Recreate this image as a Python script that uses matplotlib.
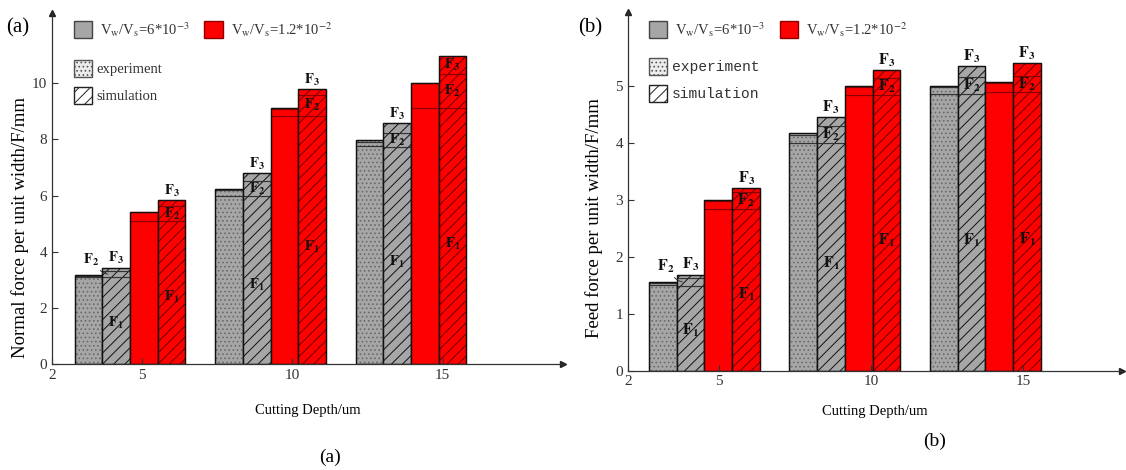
import numpy as np
import matplotlib.pyplot as plt
from matplotlib.patches import Patch

plt.rcParams['font.family'] = ['Liberation Serif', 'DejaVu Serif']
plt.rcParams['mathtext.fontset'] = 'stix'
plt.rcParams['hatch.linewidth'] = 0.7

depth = np.array([5, 10, 15])
xticks = [2, 5, 10, 15]

# segment heights [F1, F2, F3] for each cutting depth
normal_gray_exp = [[3.10, 6.00, 7.76], [0.04, 0.18, 0.16], [0.03, 0.06, 0.05]]
normal_gray_sim = [[3.10, 6.00, 7.72], [0.20, 0.50, 0.50], [0.13, 0.30, 0.35]]
normal_red_exp = [[5.08, 8.84, 9.13], [0.32, 0.25, 0.86], [0.03, 0.03, 0.03]]
normal_red_sim = [[5.08, 8.84, 9.13], [0.56, 0.74, 1.19], [0.19, 0.21, 0.66]]

feed_gray_exp = [[1.50, 4.00, 4.86], [0.03, 0.14, 0.11], [0.02, 0.03, 0.03]]
feed_gray_sim = [[1.48, 4.00, 4.86], [0.15, 0.29, 0.29], [0.05, 0.15, 0.19]]
feed_red_exp = [[2.84, 4.84, 4.88], [0.13, 0.13, 0.16], [0.03, 0.03, 0.03]]
feed_red_sim = [[2.84, 4.84, 4.88], [0.29, 0.30, 0.29], [0.07, 0.13, 0.22]]

legend_ratio = [r'V$_{\mathrm{w}}$/V$_{\mathrm{s}}$=6*10$^{-3}$',
                r'V$_{\mathrm{w}}$/V$_{\mathrm{s}}$=1.2*10$^{-2}$']
legend_kind = ['experiment', 'simulation']

GRAY = '#a6a6a6'
RED = '#ff0000'


def flabel(i):
    return r'$\mathbf{F}_{\mathbf{%d}}$' % i


def draw_panel(ax, series, start, step, width, xmax, ymax, yticks, fsize):
    for k, (vals, face, edge, hatch, hcol) in enumerate(series):
        f1, f2, f3 = (np.array(v) for v in vals)
        x = start + (depth - 5) * step + (k + 0.5) * width
        bottom = np.zeros(3)
        for seg in (f1, f2, f3):
            ax.bar(x, seg, width, bottom=bottom, facecolor=face, edgecolor=hcol,
                   hatch=hatch, linewidth=0)
            ax.bar(x, seg, width, bottom=bottom, fill=False, edgecolor=edge, linewidth=0.8)
            bottom = bottom + seg
        ax.bar(x, bottom, width, fill=False, edgecolor='#111111', linewidth=1.0)

        if k % 2 == 0:
            continue
        # labels on the simulation bars
        for j in range(3):
            kw = dict(ha='center', fontsize=fsize, color='#111111')
            ax.text(x[j], f1[j] * 0.47, flabel(1), va='center', **kw)
            top = f1[j] + f2[j] + f3[j]
            if f2[j] >= 0.03 * ymax:
                ax.text(x[j], f1[j] + f2[j] / 2, flabel(2), va='center', **kw)
            else:
                ax.annotate(flabel(2), xy=(x[j] - 0.3 * width, f1[j] + f2[j] / 2),
                            xytext=(x[j] - 0.9 * width, top), textcoords='data',
                            va='bottom',
                            arrowprops=dict(arrowstyle='-', lw=0.7, color='#333333',
                                            shrinkA=0, shrinkB=0, relpos=(0.85, 0.15),
                                            connectionstyle='arc3,rad=0.3'), **kw)
            if f3[j] >= 0.045 * ymax:
                ax.text(x[j], top - f3[j] / 2, flabel(3), va='center', **kw)
            else:
                ax.annotate(flabel(3), (x[j], top), xytext=(0, 1),
                            textcoords='offset points', va='bottom', **kw)

    ax.set_xlim(2, xmax)
    ax.set_ylim(0, ymax)
    ax.set_xticks(xticks)
    ax.set_yticks(yticks)
    ax.tick_params(direction='in', length=4, width=0.8, labelsize=11,
                   colors='#333333', labelcolor='#333333')
    for s in ('top', 'right'):
        ax.spines[s].set_visible(False)
    for s in ('left', 'bottom'):
        ax.spines[s].set_color('#333333')
        ax.spines[s].set_linewidth(0.9)
    ax.plot(1, 0, '>', color='#222222', ms=4, transform=ax.transAxes, clip_on=False)
    ax.plot(0, 1, '^', color='#222222', ms=4, transform=ax.transAxes, clip_on=False)


fig = plt.figure(figsize=(11.26, 4.70), dpi=100)
ax1 = fig.add_axes([52 / 1126, 106 / 470, 511 / 1126, 351 / 470])
ax2 = fig.add_axes([628 / 1126, 99.5 / 470, 494 / 1126, 358.5 / 470])

draw_panel(ax1, [(normal_gray_exp, GRAY, '#333333', '....', '#6a6a6a'),
                 (normal_gray_sim, GRAY, '#333333', '///', '#111111'),
                 (normal_red_exp, RED, '#8a0000', None, RED),
                 (normal_red_sim, RED, '#8a0000', '///', '#6a0000')],
           start=2.76, step=0.934, width=0.92, xmax=19, ymax=12.5,
           yticks=[0, 2, 4, 6, 8, 10], fsize=10.5)
draw_panel(ax2, [(feed_gray_exp, GRAY, '#333333', '....', '#6a6a6a'),
                 (feed_gray_sim, GRAY, '#333333', '///', '#111111'),
                 (feed_red_exp, RED, '#8a0000', None, RED),
                 (feed_red_sim, RED, '#8a0000', '///', '#6a0000')],
           start=2.69, step=0.924, width=0.913, xmax=18.25, ymax=6.29,
           yticks=[0, 1, 2, 3, 4, 5], fsize=11.5)

ax1.set_xlabel('Cutting Depth/um', fontsize=10.5, labelpad=16)
ax2.set_xlabel('Cutting Depth/um', fontsize=10.5, labelpad=12)
ax1.set_ylabel('Normal force per unit width/F/mm', fontsize=13.5)
ax2.set_ylabel('Feed force per unit width/F/mm', fontsize=13.5)
ax1.yaxis.set_label_coords(-0.045, 0.39)
ax2.yaxis.set_label_coords(-0.05, 0.425)

for ax, ypos1, ypos2, kind_font in [(ax1, 0.98, 0.866, {'family': 'Liberation Serif', 'size': 10.5}),
                                    (ax2, 0.978, 0.872, {'family': 'Liberation Mono', 'size': 10.5})]:
    h1 = [Patch(facecolor=GRAY, edgecolor='#444444'), Patch(facecolor=RED, edgecolor='#8a0000')]
    leg1 = ax.legend(h1, legend_ratio, ncol=2, loc='upper left', bbox_to_anchor=(0.043, ypos1),
                     frameon=False, handlelength=1.25, handleheight=1.45, handletextpad=0.55,
                     columnspacing=1.0, borderpad=0, borderaxespad=0, fontsize=10.5,
                     labelcolor='#333333')
    ax.add_artist(leg1)
    h2 = [Patch(facecolor='#ececec', edgecolor='#555555', hatch='....'),
          Patch(facecolor='white', edgecolor='#222222', hatch='///')]
    ax.legend(h2, legend_kind, loc='upper left', bbox_to_anchor=(0.043, ypos2),
              frameon=False, handlelength=1.25, handleheight=1.4, handletextpad=0.3,
              labelspacing=0.7, borderpad=0, borderaxespad=0, prop=kind_font,
              labelcolor='#333333')

fig.text(18 / 1126, 1 - 28 / 470, '(a)', fontsize=15, ha='center', va='center')
fig.text(590 / 1126, 1 - 28 / 470, '(b)', fontsize=15, ha='center', va='center')
fig.text(330 / 1126, 1 - 457 / 470, '(a)', fontsize=14, ha='center', va='center')
fig.text(935 / 1126, 1 - 441 / 470, '(b)', fontsize=14, ha='center', va='center')

fig.savefig('out.png', dpi=100)
